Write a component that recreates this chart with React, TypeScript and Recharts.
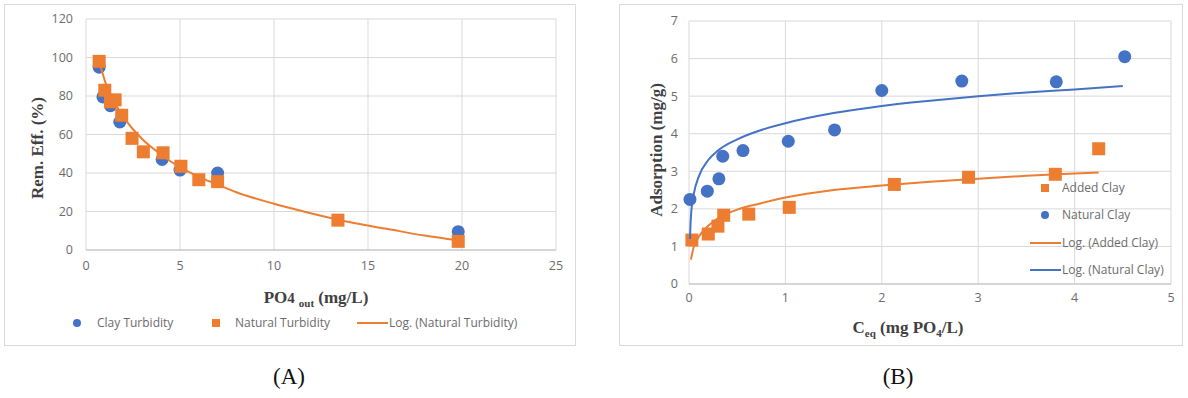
import { ScatterChart, Scatter, XAxis, YAxis, CartesianGrid } from "recharts";

const BLUE = "#4472C4";
const ORANGE = "#ED7D31";
const GRID = "#d9d9d9";
const TICK_GREY = "#6b6b6b";
const SERIF = "'Liberation Serif', 'Times New Roman', serif";
const SANS = "'Open Sans', 'Noto Sans', sans-serif";

// (A) removal efficiency vs. outlet PO4
const clayTurbX = [0.7, 0.9, 1.3, 1.8, 4.05, 5.0, 7.0, 19.8];
const clayTurbY = [95, 79.5, 75, 66.5, 47, 41.5, 40, 9.5];
const naturalTurbX = [0.7, 1.0, 1.3, 1.55, 1.9, 2.45, 3.05, 4.1, 5.05, 6.0, 7.0, 13.4, 19.8];
const naturalTurbY = [98, 83, 77, 78, 70, 58, 51, 50.5, 43.5, 36.5, 35.5, 15.5, 4.5];
const logNaturalTurbX = [0.7, 1, 1.5, 2, 3, 4, 5, 6, 7, 8, 10, 12, 14, 16, 18, 19.8];
const logNaturalTurbY = [98, 88, 77, 69, 57.5, 49.5, 43, 38, 34, 30, 24, 19, 14.5, 11, 7.5, 5];
const aXTicks = [0, 5, 10, 15, 20, 25];
const aYTicks = [0, 20, 40, 60, 80, 100, 120];

// (B) adsorption isotherm
const naturalClayX = [0.01, 0.19, 0.31, 0.35, 0.56, 1.03, 1.51, 2.0, 2.83, 3.81, 4.52];
const naturalClayY = [2.25, 2.47, 2.8, 3.4, 3.55, 3.8, 4.1, 5.15, 5.4, 5.38, 6.05];
const addedClayX = [0.03, 0.2, 0.3, 0.36, 0.62, 1.04, 2.13, 2.9, 3.8, 4.25];
const addedClayY = [1.17, 1.33, 1.54, 1.83, 1.86, 2.04, 2.65, 2.84, 2.92, 3.6];
const logNaturalClayX = [0.01, 0.02, 0.05, 0.1, 0.2, 0.3, 0.5, 0.75, 1, 1.5, 2, 2.5, 3, 3.5, 4, 4.5];
const logNaturalClayY = [1.2, 1.8, 2.4, 2.85, 3.3, 3.55, 3.85, 4.1, 4.28, 4.55, 4.74, 4.88, 5.0, 5.1, 5.18, 5.27];
const logAddedClayX = [0.02, 0.05, 0.1, 0.2, 0.3, 0.5, 0.75, 1, 1.5, 2, 2.5, 3, 3.5, 4, 4.25];
const logAddedClayY = [0.65, 1.0, 1.25, 1.55, 1.75, 1.98, 2.15, 2.3, 2.5, 2.62, 2.72, 2.8, 2.88, 2.94, 2.97];
const bXTicks = [0, 1, 2, 3, 4, 5];
const bYTicks = [0, 1, 2, 3, 4, 5, 6, 7];

const zip = (xs: number[], ys: number[]) => xs.map((x, i) => ({ x, y: ys[i] }));

const dot = (color: string, r: number) => (p: any) => (
  <circle cx={p.cx} cy={p.cy} r={r} fill={color} />
);
const square = (color: string, s: number) => (p: any) => (
  <rect x={p.cx - s / 2} y={p.cy - s / 2} width={s} height={s} fill={color} />
);
const noMark = () => <g />;

const tickStyle = { fill: TICK_GREY, fontSize: 12.5, fontFamily: SANS };

const abs = (left: number, top: number, extra: any = {}) => ({
  position: "absolute" as const,
  left,
  top,
  ...extra,
});

const LegendText = ({ x, y, children }: { x: number; y: number; children: any }) => (
  <div
    style={abs(x, y - 9, {
      fontFamily: SANS,
      fontSize: 12,
      color: TICK_GREY,
      whiteSpace: "nowrap",
      lineHeight: "18px",
    })}
  >
    {children}
  </div>
);

const LegendDot = ({ x, y, color }: { x: number; y: number; color: string }) => (
  <div style={abs(x - 4, y - 4, { width: 8, height: 8, borderRadius: 4, background: color })} />
);
const LegendSquare = ({ x, y, color }: { x: number; y: number; color: string }) => (
  <div style={abs(x - 4, y - 4, { width: 8, height: 8, background: color })} />
);
const LegendLine = ({ x1, x2, y, color }: { x1: number; x2: number; y: number; color: string }) => (
  <div style={abs(x1, y - 1, { width: x2 - x1, height: 2, background: color })} />
);

const AxisTitle = ({ x, y, rotate, children }: { x: number; y: number; rotate?: boolean; children: any }) => (
  <div
    style={abs(x, y, {
      transform: `translate(-50%, -50%)${rotate ? " rotate(-90deg)" : ""}`,
      fontFamily: SERIF,
      fontWeight: "bold",
      fontSize: 17,
      color: "#404040",
      whiteSpace: "nowrap",
    })}
  >
    {children}
  </div>
);

const PanelA = () => (
  <>
    <div style={abs(4, 4, { width: 570, height: 340, border: `1px solid ${GRID}` })} />
    <div style={abs(0, 0)}>
      <ScatterChart width={580} height={300} margin={{ top: 19, right: 24, left: 56, bottom: 20 }}>
        <CartesianGrid stroke={GRID} />
        <XAxis
          type="number"
          dataKey="x"
          domain={[0, 25]}
          ticks={aXTicks}
          height={30}
          tickSize={0}
          tickMargin={11}
          tickLine={false}
          axisLine={{ stroke: "#bfbfbf" }}
          tick={tickStyle}
        />
        <YAxis
          type="number"
          dataKey="y"
          domain={[0, 120]}
          ticks={aYTicks}
          width={30}
          tickSize={0}
          tickMargin={13}
          tickLine={false}
          axisLine={false}
          tick={tickStyle}
        />
        <Scatter data={zip(clayTurbX, clayTurbY)} shape={dot(BLUE, 6.5)} isAnimationActive={false} />
        <Scatter data={zip(naturalTurbX, naturalTurbY)} shape={square(ORANGE, 13)} isAnimationActive={false} />
        <Scatter
          data={zip(logNaturalTurbX, logNaturalTurbY)}
          shape={noMark}
          line={{ stroke: ORANGE, strokeWidth: 2 }}
          lineJointType="monotoneX"
          isAnimationActive={false}
        />
      </ScatterChart>
    </div>
    <AxisTitle x={38} y={148} rotate>
      Rem. Eff. (%)
    </AxisTitle>
    <AxisTitle x={316} y={298}>
      PO<span style={{ fontSize: 15 }}>4</span>
      <span style={{ fontSize: 11, verticalAlign: -4, marginLeft: 4 }}>out</span> (mg/L)
    </AxisTitle>
    <LegendDot x={77} y={323} color={BLUE} />
    <LegendText x={97} y={323}>Clay Turbidity</LegendText>
    <LegendSquare x={216} y={323} color={ORANGE} />
    <LegendText x={235} y={323}>Natural Turbidity</LegendText>
    <LegendLine x1={357} x2={388} y={323} color={ORANGE} />
    <LegendText x={389} y={323}>Log. (Natural Turbidity)</LegendText>
    <div style={abs(289, 377, { transform: "translate(-50%, -50%)", fontFamily: SERIF, fontSize: 23, color: "#111" })}>
      (A)
    </div>
  </>
);

const PanelB = () => (
  <>
    <div style={abs(619, 4, { width: 562, height: 340, border: `1px solid ${GRID}` })} />
    <div style={abs(600, 0)}>
      <ScatterChart width={588} height={330} margin={{ top: 21, right: 17, left: 59, bottom: 16 }}>
        <CartesianGrid stroke={GRID} />
        <XAxis
          type="number"
          dataKey="x"
          domain={[0, 5]}
          ticks={bXTicks}
          height={30}
          tickSize={0}
          tickMargin={9}
          tickLine={false}
          axisLine={{ stroke: "#bfbfbf" }}
          tick={tickStyle}
        />
        <YAxis
          type="number"
          dataKey="y"
          domain={[0, 7]}
          ticks={bYTicks}
          width={30}
          tickSize={0}
          tickMargin={11}
          tickLine={false}
          axisLine={false}
          tick={tickStyle}
        />
        <Scatter data={zip(naturalClayX, naturalClayY)} shape={dot(BLUE, 6.5)} isAnimationActive={false} />
        <Scatter data={zip(addedClayX, addedClayY)} shape={square(ORANGE, 13)} isAnimationActive={false} />
        <Scatter
          data={zip(logAddedClayX, logAddedClayY)}
          shape={noMark}
          line={{ stroke: ORANGE, strokeWidth: 2 }}
          lineJointType="monotoneX"
          isAnimationActive={false}
        />
        <Scatter
          data={zip(logNaturalClayX, logNaturalClayY)}
          shape={noMark}
          line={{ stroke: BLUE, strokeWidth: 2 }}
          lineJointType="monotoneX"
          isAnimationActive={false}
        />
      </ScatterChart>
    </div>
    <AxisTitle x={657} y={150} rotate>
      Adsorption (mg/g)
    </AxisTitle>
    <AxisTitle x={908} y={328}>
      C<span style={{ fontSize: 11, verticalAlign: -4 }}>eq</span> (mg PO
      <span style={{ fontSize: 11, verticalAlign: -4 }}>4</span>/L)
    </AxisTitle>
    {/* legend drawn inside the plot area, over the grid */}
    <LegendSquare x={1045} y={188} color={ORANGE} />
    <LegendText x={1062} y={188}>Added Clay</LegendText>
    <LegendDot x={1045} y={215} color={BLUE} />
    <LegendText x={1062} y={215}>Natural Clay</LegendText>
    <LegendLine x1={1030} x2={1061} y={243} color={ORANGE} />
    <LegendText x={1062} y={243}>Log. (Added Clay)</LegendText>
    <LegendLine x1={1030} x2={1061} y={270} color={BLUE} />
    <LegendText x={1062} y={270}>Log. (Natural Clay)</LegendText>
    <div style={abs(898, 377, { transform: "translate(-50%, -50%)", fontFamily: SERIF, fontSize: 23, color: "#111" })}>
      (B)
    </div>
  </>
);

export default function App() {
  return (
    <div style={abs(0, 0, { width: 1188, height: 398, background: "#fff" })}>
      <PanelA />
      <PanelB />
    </div>
  );
}
